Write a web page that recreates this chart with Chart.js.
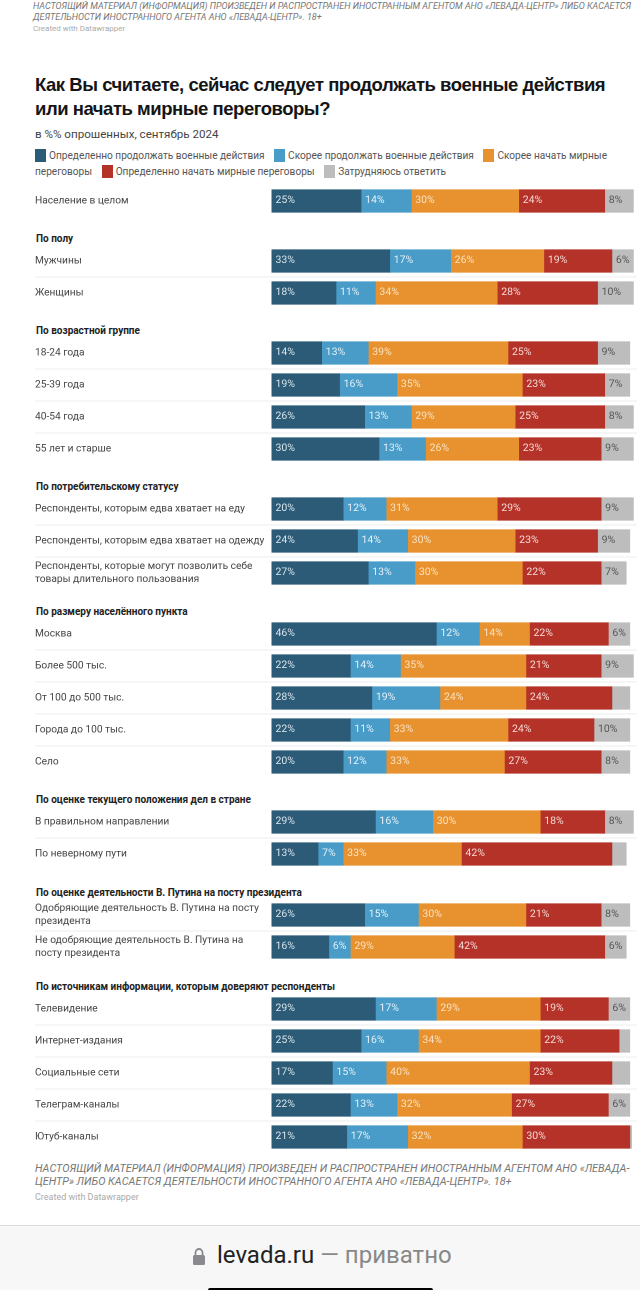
<!DOCTYPE html>
<html lang="ru">
<head>
<meta charset="utf-8">
<title>Левада-Центр</title>
<script src="https://cdn.jsdelivr.net/npm/chart.js@4"></script>
<style>
html, body { margin: 0; padding: 0; background: #fff; }
body { position: relative; width: 640px; height: 1290px; overflow: hidden; font-family: Roboto, sans-serif; color: #333; }
.abs { position: absolute; }
.note { left: 35px; width: 600px; font-style: italic; color: #777; }
.credit { left: 33px; font-size: 8px; color: #aaa; }
#title { left: 35px; top: 73px; width: 600px; font: bold 18.5px/24px "Liberation Sans", sans-serif; color: #151515; letter-spacing: -0.47px; }
#subtitle { left: 35px; top: 127px; font-size: 11.6px; color: #444; }
#legend { left: 35px; top: 148px; width: 590px; font-size: 10.1px; line-height: 16px; color: #555; }
#legend i { display: inline-block; width: 11px; height: 13px; vertical-align: -3px; margin-right: 3px; }
#legend span { margin-right: 7px; }
.heading { left: 36px; font-size: 10px; font-weight: 700; color: #222; white-space: nowrap; }
.group { left: 35px; }
#bottom { left: 0; top: 1225px; width: 640px; height: 65px; background: #f7f7f7; border-top: 1px solid #ddd; box-sizing: border-box; }
#site { left: 217px; top: 1241px; font-size: 24px; color: #222; white-space: nowrap; }
#site b { font-weight: 400; color: #888; }
#home { left: 208px; top: 1288px; width: 225px; height: 2px; background: #000; border-radius: 2px 2px 0 0; }
</style>
</head>
<body>
<div class="abs note" style="top:1px;font-size:9px;line-height:10.5px;left:33px;">НАСТОЯЩИЙ МАТЕРИАЛ (ИНФОРМАЦИЯ) ПРОИЗВЕДЕН И РАСПРОСТРАНЕН ИНОСТРАННЫМ АГЕНТОМ АНО «ЛЕВАДА-ЦЕНТР» ЛИБО КАСАЕТСЯ ДЕЯТЕЛЬНОСТИ ИНОСТРАННОГО АГЕНТА АНО «ЛЕВАДА-ЦЕНТР». 18+</div>
<div class="abs credit" style="top:24px;">Created with Datawrapper</div>
<div class="abs" id="title">Как Вы считаете, сейчас следует продолжать военные действия или начать мирные переговоры?</div>
<div class="abs" id="subtitle">в %% опрошенных, сентябрь 2024</div>
<div class="abs" id="legend"></div>

<div class="abs note" style="top:1163px;font-size:10.85px;line-height:12.5px;">НАСТОЯЩИЙ МАТЕРИАЛ (ИНФОРМАЦИЯ) ПРОИЗВЕДЕН И РАСПРОСТРАНЕН ИНОСТРАННЫМ АГЕНТОМ АНО «ЛЕВАДА-ЦЕНТР» ЛИБО КАСАЕТСЯ ДЕЯТЕЛЬНОСТИ ИНОСТРАННОГО АГЕНТА АНО «ЛЕВАДА-ЦЕНТР». 18+</div>
<div class="abs credit" style="top:1192px;left:35px;font-size:9px;">Created with Datawrapper</div>

<div class="abs" id="bottom"></div>
<svg class="abs" style="left:192px;top:1247px;" width="14" height="19" viewBox="0 0 14 19">
  <path d="M3.5 9V5.5a3.5 3.5 0 0 1 7 0V9" fill="none" stroke="#8a8a8e" stroke-width="1.8"/>
  <rect x="1" y="8" width="12" height="10" rx="1.5" fill="#8a8a8e"/>
</svg>
<div class="abs" id="site">levada.ru <b>— приватно</b></div>
<div class="abs" id="home"></div>

<script>
var seriesNames = ['Определенно продолжать военные действия', 'Скорее продолжать военные действия', 'Скорее начать мирные переговоры', 'Определенно начать мирные переговоры', 'Затрудняюсь ответить'];

var groupTitles = ['', 'По полу', 'По возрастной группе', 'По потребительскому статусу', 'По размеру населённого пункта', 'По оценке текущего положения дел в стране', 'По оценке деятельности В. Путина на посту президента', 'По источникам информации, которым доверяют респонденты'];
var groupSizes = [1, 2, 4, 3, 5, 2, 2, 5];

var categories = [
    'Население в целом',
    'Мужчины', 'Женщины',
    '18-24 года', '25-39 года', '40-54 года', '55 лет и старше',
    'Респонденты, которым едва хватает на еду',
    'Респонденты, которым едва хватает на одежду',
    ['Респонденты, которые могут позволить себе', 'товары длительного пользования'],
    'Москва', 'Более 500 тыс.', 'От 100 до 500 тыс.', 'Города до 100 тыс.', 'Село',
    'В правильном направлении', 'По неверному пути',
    ['Одобряющие деятельность В. Путина на посту', 'президента'],
    ['Не одобряющие деятельность В. Путина на', 'посту президента'],
    'Телевидение', 'Интернет-издания', 'Социальные сети', 'Телеграм-каналы', 'Ютуб-каналы'
];

var definitelyContinue = [25, 33, 18, 14, 19, 26, 30, 20, 24, 27, 46, 22, 28, 22, 20, 29, 13, 26, 16, 29, 25, 17, 22, 21];
var ratherContinue = [14, 17, 11, 13, 16, 13, 13, 12, 14, 13, 12, 14, 19, 11, 12, 16, 7, 15, 6, 17, 16, 15, 13, 17];
var ratherPeace = [30, 26, 34, 39, 35, 29, 26, 31, 30, 30, 14, 35, 24, 33, 33, 30, 33, 30, 29, 29, 34, 40, 32, 32];
var definitelyPeace = [24, 19, 28, 25, 23, 25, 23, 29, 23, 22, 22, 21, 24, 24, 27, 18, 42, 21, 42, 19, 22, 23, 27, 30];
var hardToSay = [8, 6, 10, 9, 7, 8, 9, 9, 9, 7, 6, 9, 5, 10, 8, 8, 4, 8, 6, 6, 3, 5, 6, 0.5];

var seriesValues = [definitelyContinue, ratherContinue, ratherPeace, definitelyPeace, hardToSay];
var seriesColors = ['#2c5b78', '#4a9cc8', '#e8922f', '#b43228', '#bdbdbd'];
var valueColors = ['#dbe6ec', '#e6f2f8', '#fae3c4', '#f8dcd8', '#555555'];

// y of the first row in each block, blocks are not evenly spaced in the original
var groupTops = [185, 245, 337, 493, 618, 806, 899, 993];
var rowHeight = 32;
var barHeight = 22.5;

var valueLabels = {
    id: 'valueLabels',
    afterDatasetsDraw: function(chart) {
        var ctx = chart.ctx;
        ctx.save();
        ctx.font = '10.5px Roboto';
        ctx.textBaseline = 'middle';
        ctx.textAlign = 'left';
        chart.data.datasets.forEach(function(ds, d) {
            chart.getDatasetMeta(d).data.forEach(function(bar, i) {
                if (ds.data[i] < 6) return;
                ctx.fillStyle = valueColors[d];
                ctx.fillText(ds.data[i] + '%', bar.base + 4, bar.y - 0.5);
            });
        });
        ctx.restore();
    }
};

function buildLegend() {
    var html = '';
    seriesNames.forEach(function(name, i) {
        html += '<i style="background:' + seriesColors[i] + '"></i><span>' + name + '</span> ';
    });
    document.getElementById('legend').innerHTML = html;
}

function buildGroup(g, start) {
    var n = groupSizes[g];
    if (groupTitles[g]) {
        var h = document.createElement('div');
        h.className = 'abs heading';
        h.style.top = (groupTops[g] - 12) + 'px';
        h.textContent = groupTitles[g];
        document.body.appendChild(h);
    }

    var box = document.createElement('div');
    box.className = 'abs group';
    box.style.top = groupTops[g] + 'px';
    var canvas = document.createElement('canvas');
    canvas.width = 605;
    canvas.height = n * rowHeight;
    canvas.style.width = '605px';
    canvas.style.height = (n * rowHeight) + 'px';
    box.appendChild(canvas);
    document.body.appendChild(box);

    new Chart(canvas, {
        type: 'bar',
        plugins: [valueLabels],
        data: {
            labels: categories.slice(start, start + n),
            datasets: seriesNames.map(function(name, i) {
                return {
                    label: name,
                    data: seriesValues[i].slice(start, start + n),
                    backgroundColor: seriesColors[i],
                    barThickness: barHeight,
                    borderWidth: 0
                };
            })
        },
        options: {
            indexAxis: 'y',
            responsive: false,
            animation: false,
            devicePixelRatio: 2,
            layout: { padding: { right: 3, left: 0, top: 0, bottom: 0 } },
            plugins: { legend: { display: false }, tooltip: { enabled: false } },
            scales: {
                x: { stacked: true, display: false, min: 0, max: 102 },
                y: {
                    stacked: true,
                    border: { display: false },
                    afterFit: function(scale) {
                        // labels must not eat into the 32px rows
                        scale.width = 236.5;
                        scale.paddingTop = 0;
                        scale.paddingBottom = 0;
                    },
                    grid: {
                        offset: true,
                        drawOnChartArea: true,
                        tickLength: 236.5,
                        lineWidth: 1,
                        color: function(c) {
                            return (c.index > 0 && c.index < n) ? '#ececec' : 'rgba(0,0,0,0)';
                        }
                    },
                    ticks: {
                        autoSkip: false,
                        crossAlign: 'far',
                        padding: 0,
                        color: '#444',
                        font: { family: 'Roboto', size: 10.2, lineHeight: 1.25 }
                    }
                }
            }
        }
    });
}

buildLegend();
var start = 0;
groupSizes.forEach(function(size, g) {
    buildGroup(g, start);
    start += size;
});
</script>
</body>
</html>
